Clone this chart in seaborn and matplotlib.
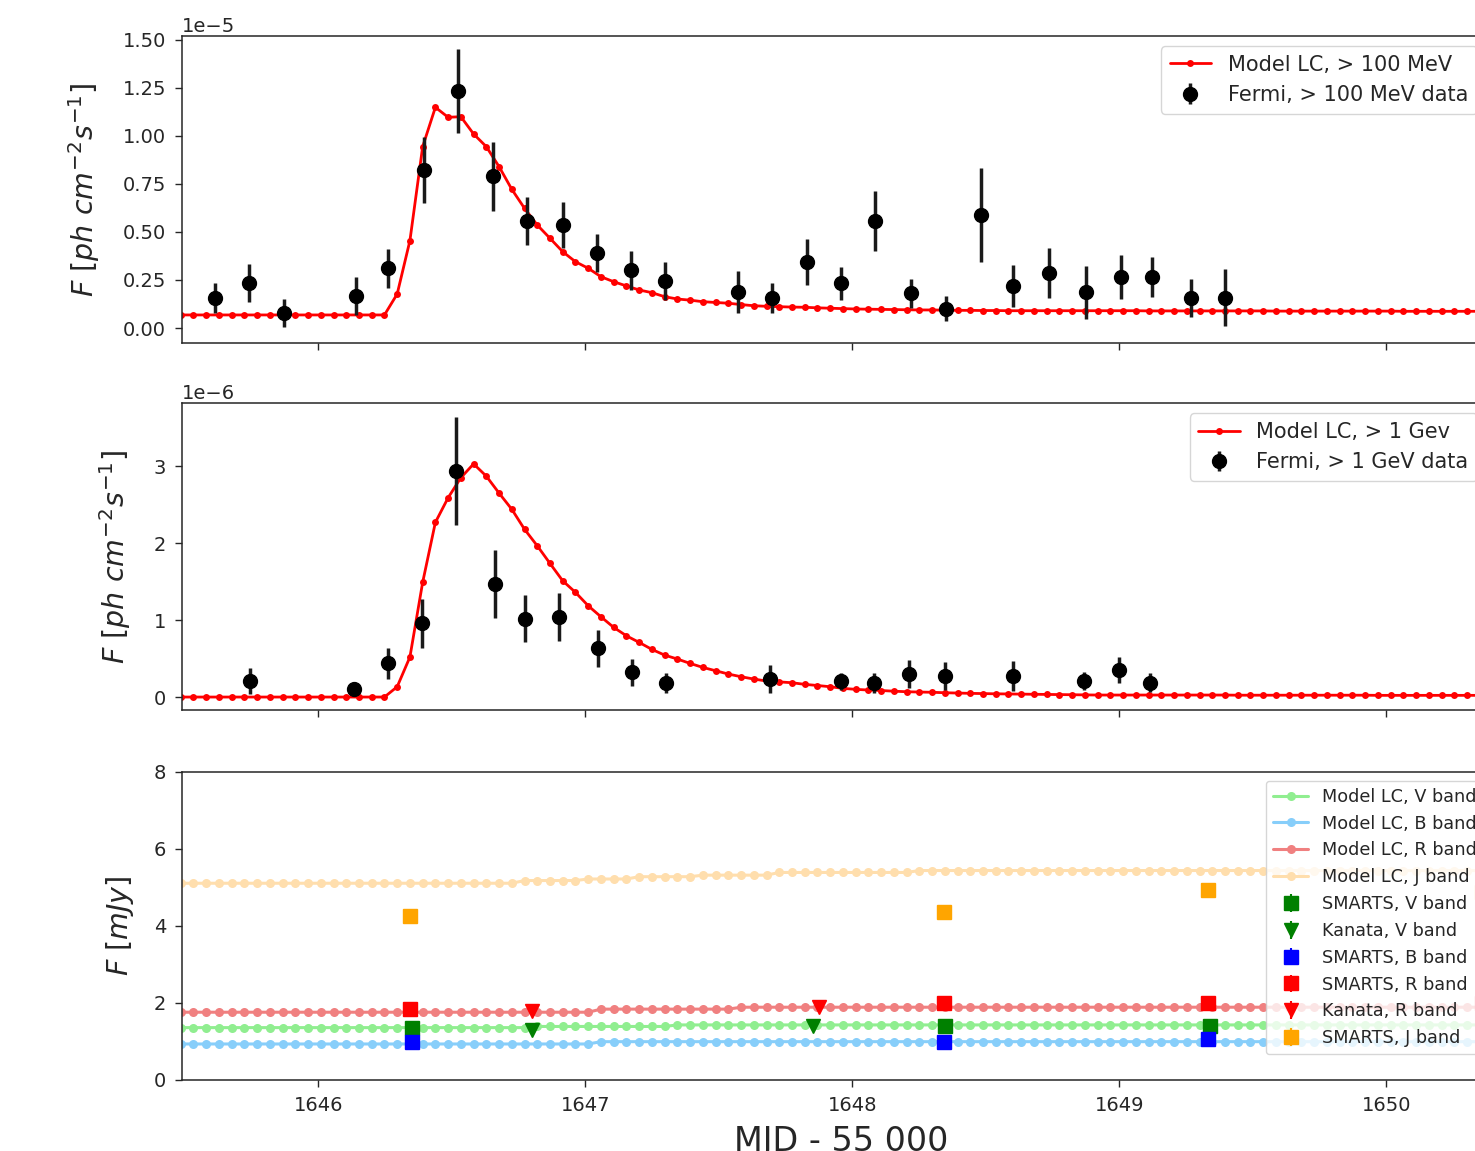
import numpy as np
import matplotlib
matplotlib.use("Agg")
import matplotlib.pyplot as plt
import seaborn as sns

# === Данные ===
# сетка модели (MJD - 55000)
model_t0 = 1645.485
model_dt = 0.0477

# модель > 100 MeV, единицы 1e-5
model_100mev = ([0.068] * 17 +
                [0.177, 0.455, 0.944, 1.149, 1.097, 1.100, 1.010, 0.944, 0.840, 0.722,
                 0.623, 0.536, 0.467, 0.397, 0.345, 0.311, 0.267, 0.241, 0.219, 0.198,
                 0.184, 0.163, 0.151, 0.145, 0.137, 0.133, 0.129, 0.122, 0.116, 0.113,
                 0.111, 0.109, 0.108, 0.105, 0.103, 0.101, 0.099, 0.098, 0.097, 0.096,
                 0.095, 0.094, 0.094, 0.093, 0.092, 0.092, 0.091, 0.091, 0.090] +
                [0.090] * 10 + [0.089] * 10 + [0.088] * 10 + [0.087] * 9)

# модель > 1 GeV, единицы 1e-6
model_1gev = ([0.0] * 17 +
              [0.134, 0.52, 1.49, 2.27, 2.59, 2.85, 3.03, 2.87, 2.65, 2.44,
               2.18, 1.965, 1.736, 1.51, 1.36, 1.186, 1.043, 0.905, 0.796, 0.71,
               0.619, 0.545, 0.494, 0.437, 0.385, 0.342, 0.299, 0.264, 0.234, 0.208,
               0.197, 0.186, 0.165, 0.150, 0.134, 0.113, 0.100, 0.091, 0.085, 0.076,
               0.069, 0.065, 0.062, 0.056, 0.052, 0.048, 0.045, 0.042, 0.040, 0.038,
               0.036, 0.034, 0.032, 0.030, 0.028] +
              [0.026] * 11 + [0.024] * 11 + [0.022] * 11)

# оптические модели, mJy
model_v = [1.36] * 28 + [1.39] * 11 + [1.43] * 66
model_b = [0.935] * 33 + [0.995] * 72
model_r = [1.76] * 33 + [1.84] * 11 + [1.89] * 61
model_j = [5.11] * 27 + [5.18] * 5 + [5.22] * 4 + [5.28] * 5 + [5.32] * 6 + [5.39] * 11 + [5.44] * 47

# Fermi > 100 MeV (1e-5)
fermi100_t = [1645.614, 1645.742, 1645.873, 1646.142, 1646.262, 1646.397, 1646.524, 1646.655,
              1646.783, 1646.918, 1647.045, 1647.172, 1647.300, 1647.572, 1647.700, 1647.829,
              1647.957, 1648.085, 1648.219, 1648.351, 1648.483, 1648.603, 1648.739, 1648.875,
              1649.006, 1649.124, 1649.268, 1649.396]
fermi100_f = [0.156, 0.234, 0.078, 0.167, 0.31, 0.823, 1.234, 0.79, 0.557, 0.536, 0.39, 0.30,
              0.245, 0.186, 0.156, 0.342, 0.233, 0.557, 0.18, 0.10, 0.589, 0.22, 0.288, 0.186,
              0.267, 0.267, 0.155, 0.158]
fermi100_err = [0.08, 0.10, 0.075, 0.10, 0.10, 0.17, 0.22, 0.18, 0.125, 0.12, 0.10, 0.10,
                0.10, 0.11, 0.08, 0.12, 0.085, 0.155, 0.075, 0.065, 0.245, 0.11, 0.13, 0.137,
                0.115, 0.105, 0.10, 0.15]

# Fermi > 1 GeV (1e-6)
fermi1_t = [1645.743, 1646.134, 1646.262, 1646.388, 1646.517, 1646.663, 1646.775, 1646.901,
            1647.048, 1647.177, 1647.301, 1647.693, 1647.959, 1648.082, 1648.212, 1648.347,
            1648.604, 1648.869, 1648.999, 1649.115]
fermi1_f = [0.212, 0.10, 0.437, 0.957, 2.94, 1.467, 1.02, 1.04, 0.632, 0.32, 0.186, 0.234,
            0.208, 0.178, 0.299, 0.273, 0.273, 0.208, 0.351, 0.186]
fermi1_err = [0.17, 0.09, 0.20, 0.32, 0.70, 0.44, 0.31, 0.31, 0.24, 0.17, 0.13, 0.18,
              0.11, 0.13, 0.18, 0.18, 0.20, 0.12, 0.17, 0.12]

# оптика
smarts_v_t = [1646.352, 1648.349, 1649.341]
smarts_v_f = [1.36, 1.40, 1.40]
kanata_v_t = [1646.80, 1647.854]
kanata_v_f = [1.30, 1.41]
smarts_b_t = [1646.352, 1648.343, 1649.334]
smarts_b_f = [0.995, 0.995, 1.06]
smarts_r_t = [1646.345, 1648.343, 1649.334, 1650.36]
smarts_r_f = [1.84, 1.99, 1.99, 2.0]
kanata_r_t = [1646.80, 1647.877]
kanata_r_f = [1.80, 1.90]
smarts_j_t = [1646.345, 1648.343, 1649.334, 1650.36]
smarts_j_f = [4.27, 4.37, 4.94, 4.88]
opt_err = 0.02

# === Стиль ===
sns.set_style("ticks")
plt.rcParams['font.family'] = ['DejaVu Sans']
plt.rcParams['axes.edgecolor'] = '.15'
plt.rcParams['axes.linewidth'] = 1.1

model_t = model_t0 + model_dt * np.arange(len(model_100mev))

fig = plt.figure(figsize=(14.75, 11.51), dpi=100)
ax1 = fig.add_axes([0.1234, 0.702, 0.8942, 0.2667])
ax2 = fig.add_axes([0.1234, 0.3831, 0.8942, 0.2667])
ax3 = fig.add_axes([0.1234, 0.0617, 0.8942, 0.2676])

ylab = r'$F\ [ph\ cm^{-2}s^{-1}]$'

# --- 1. > 100 MeV ---
sns.lineplot(x=model_t, y=np.array(model_100mev) * 1e-5, ax=ax1, color='red', marker='o',
             markersize=5, markeredgewidth=0, linewidth=2, label='Model LC, > 100 MeV')
ax1.errorbar(fermi100_t, np.array(fermi100_f) * 1e-5, yerr=np.array(fermi100_err) * 1e-5,
             fmt='o', color='k', ecolor='#1a1a1a', ms=10, elinewidth=2.5,
             label='Fermi, > 100 MeV data')
ax1.set_ylim(-0.078e-5, 1.52e-5)
ax1.set_yticks(np.arange(0, 1.51e-5, 0.25e-5))
ax1.legend(loc='upper right', bbox_to_anchor=(0.9895, 1.0), fontsize=15, frameon=True)

# --- 2. > 1 GeV ---
sns.lineplot(x=model_t, y=np.array(model_1gev) * 1e-6, ax=ax2, color='red', marker='o',
             markersize=5, markeredgewidth=0, linewidth=2, label='Model LC, > 1 Gev')
ax2.errorbar(fermi1_t, np.array(fermi1_f) * 1e-6, yerr=np.array(fermi1_err) * 1e-6,
             fmt='o', color='k', ecolor='#1a1a1a', ms=10, elinewidth=2.5,
             label='Fermi, > 1 GeV data')
ax2.set_ylim(-0.169e-6, 3.82e-6)
ax2.set_yticks([0, 1e-6, 2e-6, 3e-6])
ax2.legend(loc='upper right', bbox_to_anchor=(0.9895, 1.0), fontsize=15, frameon=True)

# --- 3. оптика ---
for vals, col, lab in [(model_v, 'lightgreen', 'Model LC, V band'),
                       (model_b, 'lightskyblue', 'Model LC, B band'),
                       (model_r, 'lightcoral', 'Model LC, R band'),
                       (model_j, 'navajowhite', 'Model LC, J band')]:
    sns.lineplot(x=model_t, y=vals, ax=ax3, color=col, marker='o', markersize=6.5,
                 markeredgewidth=0, linewidth=2.2, label=lab)

for tt, ff, col, mk, lab in [(smarts_v_t, smarts_v_f, 'green', 's', 'SMARTS, V band'),
                             (kanata_v_t, kanata_v_f, 'green', 'v', 'Kanata, V band'),
                             (smarts_b_t, smarts_b_f, 'blue', 's', 'SMARTS, B band'),
                             (smarts_r_t, smarts_r_f, 'red', 's', 'SMARTS, R band'),
                             (kanata_r_t, kanata_r_f, 'red', 'v', 'Kanata, R band'),
                             (smarts_j_t, smarts_j_f, 'orange', 's', 'SMARTS, J band')]:
    ax3.errorbar(tt, ff, yerr=[opt_err] * len(tt), fmt=mk, color=col, ms=9.5,
                 elinewidth=1.5, label=lab)

ax3.set_ylim(0, 8)
ax3.set_yticks([0, 2, 4, 6, 8])
ax3.legend(loc='upper right', bbox_to_anchor=(0.994, 1.0), fontsize=12.7, frameon=True)

for ax in (ax1, ax2, ax3):
    ax.set_xlim(1645.49, 1650.43)
    ax.set_xticks([1646, 1647, 1648, 1649, 1650])
    ax.tick_params(labelsize=14, length=5, width=1, pad=6.5)
    ax.yaxis.get_offset_text().set_fontsize(14)
    ax.set_xlabel('')

ax1.tick_params(labelbottom=False)
ax2.tick_params(labelbottom=False)
ax1.set_ylabel(ylab, fontsize=20.5, labelpad=15)
ax2.set_ylabel(ylab, fontsize=20.5, labelpad=15)
ax3.set_ylabel(r'$F\ [mJy]$', fontsize=20.5, labelpad=13)
ax3.set_xlabel('MJD - 55 000', fontsize=24, labelpad=7)

fig.savefig("out.png", dpi=100)
